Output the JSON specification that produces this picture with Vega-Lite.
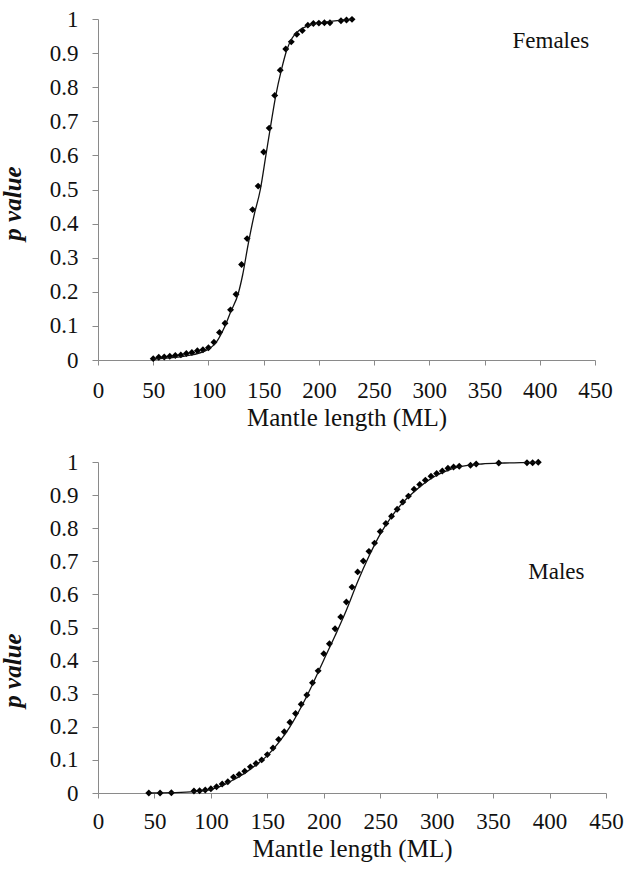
{
  "$schema": "https://vega.github.io/schema/vega-lite/v6.json",
  "padding": {"left": 0, "top": 8, "right": 0, "bottom": 5},
  "background": "white",
  "spacing": 21,
  "config": {
    "view": {"stroke": null},
    "font": "Liberation Serif",
    "style": {
      "guide-label": {"font": "Liberation Serif", "fontSize": 23, "fill": "#111"},
      "guide-title": {"font": "Liberation Serif", "fontSize": 25, "fill": "#111"}
    },
    "axis": {"grid": false, "labelFlush": false, "labelOverlap": false, "labelFont": "Liberation Serif", "titleFont": "Liberation Serif"}
  },
  "datasets": {
    "femPts": [
      {"ml": 50, "p": 0.004}, {"ml": 55, "p": 0.008}, {"ml": 60, "p": 0.009}, {"ml": 65, "p": 0.011},
      {"ml": 70, "p": 0.013}, {"ml": 75, "p": 0.015}, {"ml": 80, "p": 0.019}, {"ml": 85, "p": 0.022},
      {"ml": 90, "p": 0.027}, {"ml": 95, "p": 0.030}, {"ml": 100, "p": 0.036}, {"ml": 105, "p": 0.052},
      {"ml": 110, "p": 0.081}, {"ml": 115, "p": 0.108}, {"ml": 120, "p": 0.147}, {"ml": 125, "p": 0.193},
      {"ml": 130, "p": 0.28}, {"ml": 135, "p": 0.356}, {"ml": 140, "p": 0.441}, {"ml": 145, "p": 0.51},
      {"ml": 150, "p": 0.61}, {"ml": 155, "p": 0.68}, {"ml": 160, "p": 0.776}, {"ml": 165, "p": 0.85},
      {"ml": 170, "p": 0.912}, {"ml": 175, "p": 0.933}, {"ml": 180, "p": 0.955}, {"ml": 185, "p": 0.966},
      {"ml": 190, "p": 0.982}, {"ml": 195, "p": 0.987}, {"ml": 200, "p": 0.988}, {"ml": 205, "p": 0.989},
      {"ml": 210, "p": 0.989}, {"ml": 220, "p": 0.995}, {"ml": 225, "p": 0.997}, {"ml": 230, "p": 0.999}
    ],
    "femFit": [
      {"ml": 50, "p": 0.003}, {"ml": 80, "p": 0.012}, {"ml": 100, "p": 0.032}, {"ml": 107, "p": 0.052},
      {"ml": 115, "p": 0.10}, {"ml": 120, "p": 0.14}, {"ml": 127, "p": 0.195}, {"ml": 131, "p": 0.25},
      {"ml": 136, "p": 0.34}, {"ml": 141, "p": 0.42}, {"ml": 147, "p": 0.5}, {"ml": 152, "p": 0.6},
      {"ml": 156, "p": 0.68}, {"ml": 161, "p": 0.776}, {"ml": 166, "p": 0.85}, {"ml": 171, "p": 0.91},
      {"ml": 176, "p": 0.945}, {"ml": 182, "p": 0.966}, {"ml": 190, "p": 0.98}, {"ml": 200, "p": 0.988},
      {"ml": 230, "p": 0.999}
    ],
    "malPts": [
      {"ml": 45, "p": 0.0}, {"ml": 55, "p": 0.0}, {"ml": 65, "p": 0.001}, {"ml": 85, "p": 0.006},
      {"ml": 90, "p": 0.007}, {"ml": 95, "p": 0.009}, {"ml": 100, "p": 0.013}, {"ml": 105, "p": 0.019},
      {"ml": 110, "p": 0.027}, {"ml": 115, "p": 0.034}, {"ml": 120, "p": 0.048}, {"ml": 125, "p": 0.056},
      {"ml": 130, "p": 0.066}, {"ml": 135, "p": 0.079}, {"ml": 140, "p": 0.089}, {"ml": 145, "p": 0.100},
      {"ml": 150, "p": 0.116}, {"ml": 155, "p": 0.136}, {"ml": 160, "p": 0.162}, {"ml": 165, "p": 0.185},
      {"ml": 170, "p": 0.214}, {"ml": 175, "p": 0.240}, {"ml": 180, "p": 0.268}, {"ml": 185, "p": 0.296},
      {"ml": 190, "p": 0.333}, {"ml": 195, "p": 0.369}, {"ml": 200, "p": 0.421}, {"ml": 205, "p": 0.451},
      {"ml": 210, "p": 0.496}, {"ml": 215, "p": 0.532}, {"ml": 220, "p": 0.577}, {"ml": 225, "p": 0.622},
      {"ml": 230, "p": 0.668}, {"ml": 235, "p": 0.701}, {"ml": 240, "p": 0.730}, {"ml": 245, "p": 0.755},
      {"ml": 250, "p": 0.790}, {"ml": 255, "p": 0.814}, {"ml": 260, "p": 0.836}, {"ml": 265, "p": 0.857},
      {"ml": 270, "p": 0.879}, {"ml": 275, "p": 0.897}, {"ml": 280, "p": 0.918}, {"ml": 285, "p": 0.932},
      {"ml": 290, "p": 0.945}, {"ml": 295, "p": 0.957}, {"ml": 300, "p": 0.965}, {"ml": 305, "p": 0.973},
      {"ml": 310, "p": 0.981}, {"ml": 315, "p": 0.985}, {"ml": 320, "p": 0.987}, {"ml": 330, "p": 0.990},
      {"ml": 335, "p": 0.994}, {"ml": 355, "p": 0.997}, {"ml": 380, "p": 0.998}, {"ml": 385, "p": 0.998},
      {"ml": 390, "p": 0.999}
    ],
    "malFit": [
      {"ml": 45, "p": 0.0}, {"ml": 65, "p": 0.001}, {"ml": 85, "p": 0.004}, {"ml": 100, "p": 0.011},
      {"ml": 110, "p": 0.022}, {"ml": 120, "p": 0.040}, {"ml": 130, "p": 0.060}, {"ml": 140, "p": 0.085},
      {"ml": 150, "p": 0.113}, {"ml": 160, "p": 0.152}, {"ml": 170, "p": 0.200}, {"ml": 180, "p": 0.260},
      {"ml": 190, "p": 0.328}, {"ml": 200, "p": 0.402}, {"ml": 210, "p": 0.475}, {"ml": 220, "p": 0.552},
      {"ml": 230, "p": 0.638}, {"ml": 240, "p": 0.715}, {"ml": 250, "p": 0.782}, {"ml": 260, "p": 0.835},
      {"ml": 270, "p": 0.877}, {"ml": 280, "p": 0.910}, {"ml": 290, "p": 0.938}, {"ml": 300, "p": 0.960},
      {"ml": 310, "p": 0.975}, {"ml": 320, "p": 0.985}, {"ml": 340, "p": 0.994}, {"ml": 360, "p": 0.997},
      {"ml": 390, "p": 0.999}
    ],
    "femLabel": [{"ml": 410, "p": 0.935, "label": "Females"}],
    "malLabel": [{"ml": 406, "p": 0.667, "label": "Males"}]
  },
  "vconcat": [
    {
      "width": 497,
      "height": 341,
      "layer": [
        {
          "data": {"name": "femPts"},
          "mark": {"type": "point", "shape": "diamond", "filled": true, "color": "#000", "size": 48, "opacity": 1},
          "encoding": {
            "x": {"field": "ml", "type": "quantitative", "scale": {"domain": [0, 450], "nice": false},
              "axis": {"values": [0, 50, 100, 150, 200, 250, 300, 350, 400, 450], "tickCount": 10, "title": "Mantle length (ML)",
                "grid": false, "domainColor": "#8a8a8a", "tickColor": "#8a8a8a", "tickSize": 5, "labelPadding": 14, "titlePadding": 3,
                "labelFont": "Liberation Serif", "labelFontSize": 23, "labelColor": "#111", "labelOverlap": false, "labelFlush": false, "labelBound": false,
                "titleFont": "Liberation Serif", "titleFontSize": 25, "titleFontWeight": "normal", "titleColor": "#111"}},
            "y": {"field": "p", "type": "quantitative", "scale": {"domain": [0, 1], "nice": false},
              "axis": {"values": [0, 0.1, 0.2, 0.3, 0.4, 0.5, 0.6, 0.7, 0.8, 0.9, 1], "tickCount": 11, "format": ".1~f", "title": "p value",
                "grid": false, "domainColor": "#8a8a8a", "tickColor": "#8a8a8a", "tickSize": 6, "labelPadding": 14, "titlePadding": 24, "titleY": 184,
                "labelFont": "Liberation Serif", "labelFontSize": 23, "labelColor": "#111", "labelOverlap": false, "labelFlush": false, "labelBound": false,
                "titleFont": "Liberation Serif", "titleFontSize": 25, "titleFontWeight": "bold", "titleFontStyle": "italic", "titleColor": "#111"}}
          }
        },
        {
          "data": {"name": "femFit"},
          "mark": {"type": "line", "color": "#111", "strokeWidth": 1.3, "interpolate": "monotone"},
          "encoding": {
            "x": {"field": "ml", "type": "quantitative"},
            "y": {"field": "p", "type": "quantitative"}
          }
        },
        {
          "mark": {"type": "rule", "color": "#444", "strokeWidth": 1.1, "strokeDash": [7, 2, 2, 2, 2, 2]},
          "encoding": {
            "x": {"datum": 0, "type": "quantitative"},
            "x2": {"datum": 152},
            "y": {"datum": 0.497, "type": "quantitative"}
          }
        },
        {
          "mark": {"type": "rule", "color": "#333", "strokeWidth": 1.3},
          "encoding": {
            "x": {"datum": 147.3, "type": "quantitative"},
            "y": {"datum": 0, "type": "quantitative"},
            "y2": {"datum": 0.49}
          }
        },
        {
          "data": {"name": "femLabel"},
          "mark": {"type": "text", "fontSize": 23, "font": "Liberation Serif", "color": "#111", "align": "center", "baseline": "middle"},
          "encoding": {
            "x": {"field": "ml", "type": "quantitative"},
            "y": {"field": "p", "type": "quantitative"},
            "text": {"field": "label", "type": "nominal"}
          }
        }
      ]
    },
    {
      "width": 508,
      "height": 331,
      "layer": [
        {
          "data": {"name": "malPts"},
          "mark": {"type": "point", "shape": "diamond", "filled": true, "color": "#000", "size": 48, "opacity": 1},
          "encoding": {
            "x": {"field": "ml", "type": "quantitative", "scale": {"domain": [0, 450], "nice": false},
              "axis": {"values": [0, 50, 100, 150, 200, 250, 300, 350, 400, 450], "tickCount": 10, "title": "Mantle length (ML)",
                "grid": false, "domainColor": "#8a8a8a", "tickColor": "#8a8a8a", "tickSize": 5, "labelPadding": 12, "titlePadding": 3,
                "labelFont": "Liberation Serif", "labelFontSize": 23, "labelColor": "#111", "labelOverlap": false, "labelFlush": false, "labelBound": false,
                "titleFont": "Liberation Serif", "titleFontSize": 25, "titleFontWeight": "normal", "titleColor": "#111"}},
            "y": {"field": "p", "type": "quantitative", "scale": {"domain": [0, 1], "nice": false},
              "axis": {"values": [0, 0.1, 0.2, 0.3, 0.4, 0.5, 0.6, 0.7, 0.8, 0.9, 1], "tickCount": 11, "format": ".1~f", "title": "p value",
                "grid": false, "domainColor": "#8a8a8a", "tickColor": "#8a8a8a", "tickSize": 6, "labelPadding": 14, "titlePadding": 24, "titleY": 208,
                "labelFont": "Liberation Serif", "labelFontSize": 23, "labelColor": "#111", "labelOverlap": false, "labelFlush": false, "labelBound": false,
                "titleFont": "Liberation Serif", "titleFontSize": 25, "titleFontWeight": "bold", "titleFontStyle": "italic", "titleColor": "#111"}}
          }
        },
        {
          "data": {"name": "malFit"},
          "mark": {"type": "line", "color": "#111", "strokeWidth": 1.3, "interpolate": "monotone"},
          "encoding": {
            "x": {"field": "ml", "type": "quantitative"},
            "y": {"field": "p", "type": "quantitative"}
          }
        },
        {
          "mark": {"type": "rule", "color": "#444", "strokeWidth": 1.1, "strokeDash": [7, 2, 2, 2, 2, 2]},
          "encoding": {
            "x": {"datum": 0, "type": "quantitative"},
            "x2": {"datum": 218},
            "y": {"datum": 0.495, "type": "quantitative"}
          }
        },
        {
          "mark": {"type": "rule", "color": "#333", "strokeWidth": 1.3},
          "encoding": {
            "x": {"datum": 213.6, "type": "quantitative"},
            "y": {"datum": 0, "type": "quantitative"},
            "y2": {"datum": 0.49}
          }
        },
        {
          "data": {"name": "malLabel"},
          "mark": {"type": "text", "fontSize": 23, "font": "Liberation Serif", "color": "#111", "align": "center", "baseline": "middle"},
          "encoding": {
            "x": {"field": "ml", "type": "quantitative"},
            "y": {"field": "p", "type": "quantitative"},
            "text": {"field": "label", "type": "nominal"}
          }
        }
      ]
    }
  ]
}
